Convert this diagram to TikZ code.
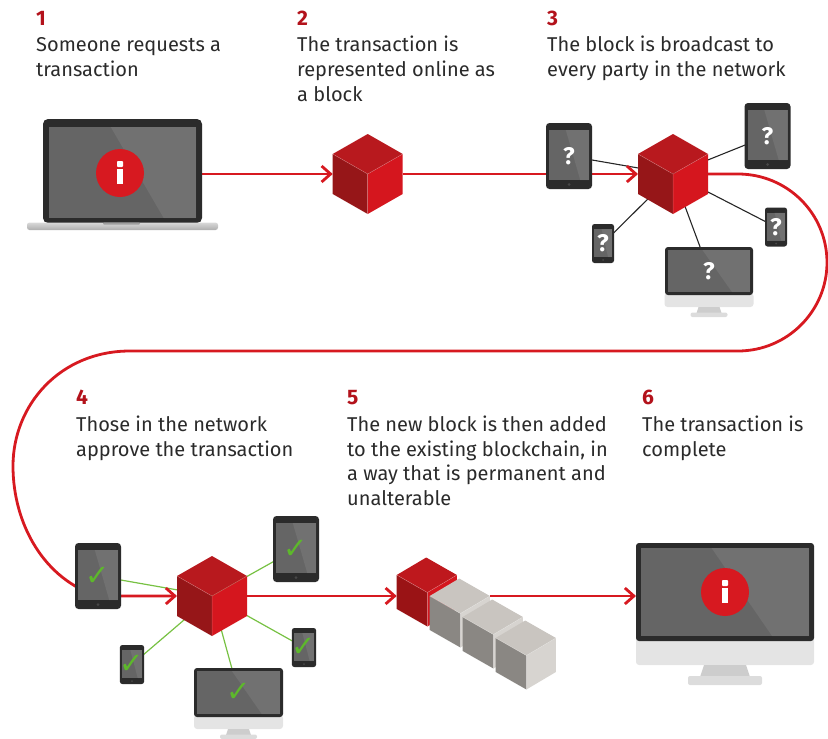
\documentclass[tikz,border=0pt]{standalone}
\usepackage{fontspec}
\setmainfont{Fira Sans}
\newfontfamily\symfont{DejaVu Sans}
\usetikzlibrary{arrows.meta,calc,backgrounds}

\definecolor{flowred}{HTML}{D71920}
\definecolor{numred}{HTML}{B3121B}
\definecolor{textdark}{HTML}{2A2A2A}
\definecolor{cubetop}{HTML}{B8191E}
\definecolor{cubeleft}{HTML}{961618}
\definecolor{cuberight}{HTML}{D5161E}
\definecolor{devdark}{HTML}{2B2B2B}
\definecolor{devscr}{HTML}{656565}
\definecolor{devbtn}{HTML}{474747}
\definecolor{okgreen}{HTML}{5DB82B}
\definecolor{netgreen}{HTML}{77C143}
\definecolor{netblack}{HTML}{262626}
\definecolor{chinc}{HTML}{E4E4E4}
\definecolor{standc}{HTML}{CDCDCD}
\definecolor{footc}{HTML}{DCDCDC}
\definecolor{chaintop}{HTML}{C9C5C0}
\definecolor{chainfront}{HTML}{8A8783}
\definecolor{chainside}{HTML}{D7D4D0}
\definecolor{redtop}{HTML}{BE181D}
\definecolor{redfront}{HTML}{9A1315}

% screen inset inside a device body: left, right, top, bottom (pt)
\newcommand\devscreen[4]{%
  \coordinate (ssw) at ([shift={(#1pt,#4pt)}]path picture bounding box.south west);
  \coordinate (sne) at ([shift={(-#2pt,-#3pt)}]path picture bounding box.north east);
  \fill[devscr, sharp corners] (ssw) rectangle (sne);
  \fill[white, opacity=0.08, sharp corners] ($(ssw|-sne)!0.42!(sne)$) -- (sne) -- (sne|-ssw)
     -- ($(ssw)!0.78!(sne|-ssw)$) -- cycle;
}

% isometric block drawn over an invisible box node
\newcommand\isocube[1]{%
  \fill[cubeleft] (#1.center) -- ++(-35pt,20pt) -- ++(0pt,-40pt) -- ++(35pt,-20pt) -- cycle;
  \fill[cuberight] (#1.center) -- ++(35pt,20pt) -- ++(0pt,-40pt) -- ++(-35pt,-20pt) -- cycle;
  \fill[cubetop] (#1.center) -- ++(-35pt,20pt) -- ++(35pt,20pt) -- ++(35pt,-20pt) -- cycle;
  \draw[white, opacity=0.25, line width=0.5pt] (#1.center) -- ++(-35pt,20pt)
     (#1.center) -- ++(35pt,20pt) (#1.center) -- ++(0pt,-40pt);
}

% chin and stand under a monitor bezel
\newcommand\monitorstand[2]{%
  \begin{scope}[shift={(#1.south)}, scale=#2]
    \fill[chinc, rounded corners=3pt] (-89pt,4pt) rectangle (89pt,-24pt);
    \fill[standc] (-21pt,-24pt) -- (21pt,-24pt) -- (25pt,-36pt) -- (-25pt,-36pt) -- cycle;
    \fill[footc, rounded corners=2pt] (-37pt,-35pt) rectangle (37pt,-44pt);
  \end{scope}}

% info badge
\newcommand\infobadge[1]{%
  \fill[flowred] (#1) circle (24pt);
  \fill[white] ([shift={(-3pt,-11pt)}]#1) rectangle ([shift={(3pt,4pt)}]#1);
  \fill[white, rounded corners=0.8pt] ([shift={(-3pt,6pt)}]#1) rectangle ([shift={(3pt,12pt)}]#1);
}

\tikzset{
  stepnum/.style={anchor=base west, inner sep=0pt, text=numred,
    font=\bfseries\fontsize{21}{21}\selectfont},
  % anchored at the baseline of the last line
  steptext/.style={anchor=base west, inner sep=0pt, align=left, text=textdark,
    font=\fontsize{20}{24.6}\selectfont},
  flow/.style={draw=flowred, line width=2.8pt},
  flowarrow/.style={flow, -{Straight Barb[length=9pt,width=16pt]}},
  netq/.style={draw=netblack, line width=1.1pt},
  netok/.style={draw=netgreen, line width=1.2pt},
  cubebox/.style={minimum width=70pt, minimum height=80pt, inner sep=0pt, outer sep=0pt},
  devbase/.style={rectangle, fill=devdark, inner sep=0pt, outer sep=0pt, text=white,
    font=\bfseries\fontsize{24}{24}\selectfont},
  laptop/.style={devbase, rounded corners=5pt, minimum width=159pt, minimum height=104pt,
    path picture={\devscreen{6}{6}{8}{5}}},
  tablet/.style={devbase, rounded corners=3.5pt, minimum width=46pt, minimum height=66pt,
    path picture={\devscreen{3}{3}{7}{9}%
      \fill[devbtn] ([yshift=4.5pt]path picture bounding box.south) circle (1.5pt);}},
  phone/.style={devbase, rounded corners=2.5pt, minimum width=22pt, minimum height=39pt,
    path picture={\devscreen{2}{2}{5}{6}%
      \fill[devbtn] ([yshift=3pt]path picture bounding box.south) circle (1pt);}},
  monitor/.style n args={3}{devbase, rounded corners=3pt, minimum width=#1, minimum height=#2,
    path picture={\devscreen{#3}{#3}{#3}{#3}}},
  ok/.style={text=okgreen, font=\symfont\fontsize{29}{29}\selectfont},
}

\begin{document}
\begin{tikzpicture}[x=1pt,y=-1pt]
\useasboundingbox (0,0) rectangle (828,739);

% ---------- captions ----------
\node[stepnum] (n1) at (36,25) {1};
\node[steptext] (s1) at (36,76.5) {Someone requests a\\transaction};
\node[stepnum] (n2) at (297,25) {2};
\node[steptext] (s2) at (297,101) {The transaction is\\represented online as\\a block};
\node[stepnum] (n3) at (547,25) {3};
\node[steptext] (s3) at (547,76.5) {The block is broadcast to\\every party in the network};
\node[stepnum] (n4) at (76,404) {4};
\node[steptext] (s4) at (76,456.5) {Those in the network\\approve the transaction};
\node[stepnum] (n5) at (347,404) {5};
\node[steptext] (s5) at (347,505.5) {The new block is then added\\to the existing blockchain, in\\a way that is permanent and\\unalterable};
\node[stepnum] (n6) at (642,404) {6};
\node[steptext] (s6) at (642,456.5) {The transaction is\\complete};

% ---------- step 1: laptop ----------
\node[laptop] (L) at (122.5,171) {};
\shade[top color=black!15, bottom color=black!32, rounded corners=2.5pt] (27,222.5) rectangle (218,230);
\fill[black!38, rounded corners=1pt] (103,222.5) rectangle (140,224.5);
\infobadge{120,173}

% ---------- blocks ----------
\node[cubebox] (c2) at (367.7,174) {};
\isocube{c2}
\node[cubebox] (c3) at (673,174) {};
\node[cubebox] (c4) at (212,596) {};

% ---------- step 3: network asking ----------
\node[tablet] (t3a) at (569,156) {?};
\node[tablet] (t3b) at (767.5,136) {?};
\node[phone] (p3a) at (603,243.5) {?};
\node[phone] (p3b) at (776,227) {?};
\node[monitor={88pt}{48pt}{3}] (m3) at (709,271) {?};
\isocube{c3}

% ---------- step 4: network approving ----------
\node[tablet, ok] (t4a) at (98,576) {✓};
\node[tablet, ok] (t4b) at (296,549) {✓};
\node[phone, ok] (p4a) at (132,664.5) {✓};
\node[phone, ok] (p4b) at (304,647.5) {✓};
\node[monitor={89pt}{49pt}{3}, ok] (m4) at (238.5,692.5) {✓};
\isocube{c4}

% ---------- step 5: chain of blocks ----------
\node[minimum width=93.2pt, minimum height=1pt, inner sep=0pt, outer sep=0pt, anchor=west]
  (chain) at (396.7,596) {};
\begin{scope}[shift={($(chain.west)+(0,-21)$)}]
  \foreach \k/\tc/\fc/\sc in {0/redtop/redfront/cuberight, 1/chaintop/chainfront/chainside,
                              2/chaintop/chainfront/chainside, 3/chaintop/chainfront/chainside}{
    \begin{scope}[shift={(\k*33,\k*21)}]
      \fill[\sc] (30.7,17.5) -- (60.2,0) -- (60.2,34) -- (30.7,51.5) -- cycle;
      \fill[\fc] (0,0) -- (30.7,17.5) -- (30.7,51.5) -- (0,34) -- cycle;
      \fill[\tc] (0,0) -- (29.5,-17.5) -- (60.2,0) -- (30.7,17.5) -- cycle;
      \draw[white, opacity=0.3, line width=0.5pt] (0,0) -- (30.7,17.5) -- (60.2,0)
        (30.7,17.5) -- (30.7,51.5);
    \end{scope}}
\end{scope}

% ---------- step 6: monitor ----------
\node[monitor={178pt}{98pt}{5}] (m6) at (725,592) {};
\infobadge{725,592}

% ---------- connectors ----------
\begin{pgfonlayer}{background}
  \monitorstand{m3}{0.5}
  \monitorstand{m4}{0.5}
  \monitorstand{m6}{1}
  \foreach \d in {t3a,t3b,p3a,p3b,m3} \draw[netq] (c3.center) -- (\d.center);
  \foreach \d in {t4a,t4b,p4a,p4b,m4} \draw[netok] (c4.center) -- (\d.center);
  \draw[flowarrow] (L.east |- c2.west) -- (c2.west);
  \draw[flowarrow] (c2.east) -- (c3.west);
  \draw[flowarrow] (c3.east) -- (738,174)
     .. controls (787.2,174) and (827,213.3) .. (827,262.5)
     .. controls (827,311.2) and (787.2,351) .. (738,351)
     -- (130,351)
     .. controls (60,351) and (13,405) .. (13,466)
     .. controls (13,525) and (45,580) .. (t4a.center |- c4.west)
     -- (c4.west);
  \draw[flowarrow] (c4.east) -- (chain.west);
  \draw[flowarrow] (chain.east) -- (chain.east -| m6.west);
\end{pgfonlayer}
\end{tikzpicture}
\end{document}
